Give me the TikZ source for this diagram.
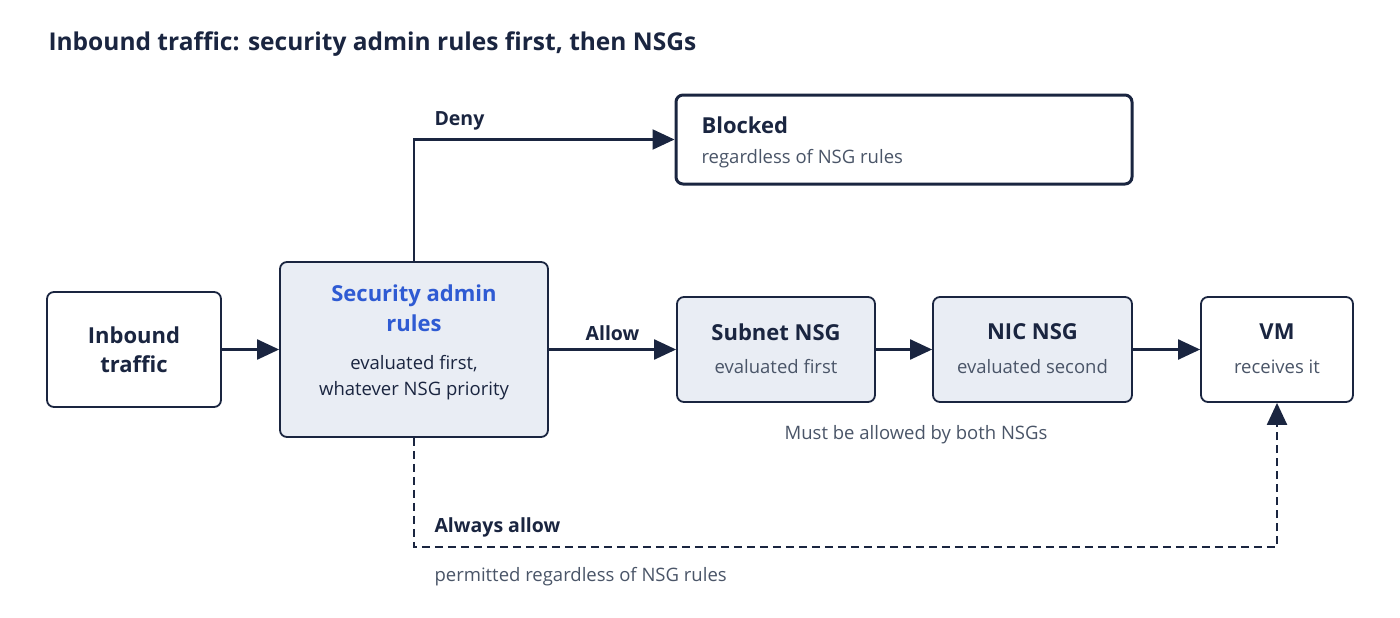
\documentclass[tikz,border=0pt]{standalone}
\usepackage{fontspec}
\setmainfont{Open Sans}
\usetikzlibrary{arrows.meta}
\definecolor{navy}{HTML}{1A2540}
\definecolor{blu}{HTML}{2F5BD3}
\definecolor{gtx}{HTML}{4A5568}
\definecolor{fillb}{HTML}{E9EDF4}
\begin{document}
\begin{tikzpicture}[x=1pt,y=-1pt,
 box/.style={draw=navy,line width=1.8pt,rounded corners=7pt,align=center,inner sep=0pt},
 filled/.style={box,fill=fillb},
 arr/.style={draw=navy,line width=2.2pt,-{Triangle[length=22pt,width=20pt]}},
 ttl/.style={font=\fontsize{22}{29}\selectfont\bfseries,text=navy,align=center},
 sub/.style={font=\fontsize{18.5}{26}\selectfont,text=gtx,align=center},
 lbl/.style={font=\fontsize{19.5}{23}\selectfont\bfseries,text=navy}]
\useasboundingbox[fill=white] (0,0) rectangle (1400,618);
\node[anchor=west,font=\fontsize{24.5}{28}\selectfont\bfseries,text=navy] (title) at (45,44) {Inbound traffic: security admin rules first, then NSGs};
\node[box,minimum width=174pt,minimum height=115pt] (in) at (134,349.5) {};
\node[ttl] at (134,349.5) {Inbound\\traffic};
\node[filled,minimum width=268pt,minimum height=175pt] (sa) at (414,349.5) {};
\node[ttl,text=blu,font=\fontsize{22}{30}\selectfont\bfseries] at (414,308) {Security admin\\rules};
\node[sub,text=navy] at (414,378) {evaluated first,\\whatever NSG priority};
\node[box,line width=3pt,minimum width=456pt,minimum height=89pt] (bl) at (904,139.5) {};
\node[ttl,anchor=west] at (698,125) {Blocked};
\node[sub,anchor=west] at (698,159) {regardless of NSG rules};
\node[filled,minimum width=198pt,minimum height=105pt] (sn) at (776,349.5) {};
\node[ttl] at (776,332) {Subnet NSG};
\node[sub] at (776,367) {evaluated first};
\node[filled,minimum width=199pt,minimum height=105pt] (nic) at (1032.5,349.5) {};
\node[ttl] at (1032.5,332) {NIC NSG};
\node[sub] at (1032.5,367) {evaluated second};
\node[box,minimum width=152pt,minimum height=105pt] (vm) at (1277,349.5) {};
\node[ttl] at (1277,332) {VM};
\node[sub] at (1277,367) {receives it};
\node[sub] (both) at (916,435) {Must be allowed by both NSGs};
\draw[arr] (in) -- (sa);
\draw[arr] (sa) -- node[lbl,above=4pt]{Allow} (sn);
\draw[arr] (sn) -- (nic);
\draw[arr] (nic) -- (vm);
\draw[arr] (sa.north) |- (bl.west);
\node[lbl,anchor=west] (deny) at (431,121) {Deny};
\draw[arr,dashed,dash pattern=on 8pt off 5pt] (sa.south) -- (414,547) -| (vm.south);
\node[lbl,anchor=west] (aa) at (431,527) {Always allow};
\node[sub,anchor=west] (perm) at (431,577) {permitted regardless of NSG rules};
\end{tikzpicture}
\end{document}
